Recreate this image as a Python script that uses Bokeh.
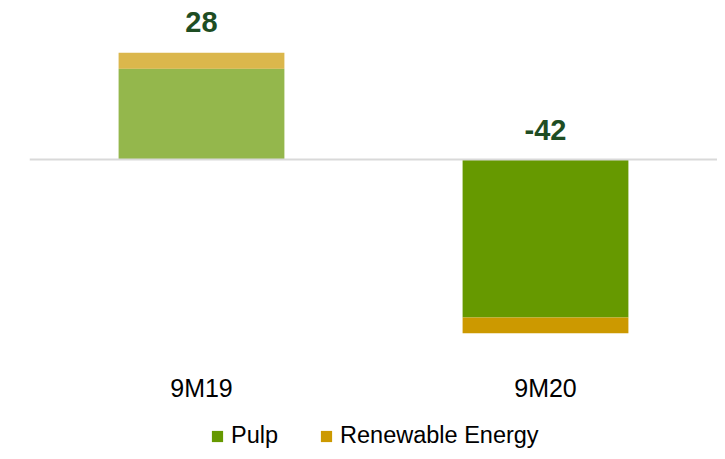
from bokeh.plotting import figure
from bokeh.models import FactorRange, Range1d, Span, Legend, LegendItem, ColumnDataSource
from bokeh.core.properties import value
from bokeh.embed import file_html
from bokeh.resources import INLINE

# ---- data ----
categories = ["9M19", "9M20"]
pulp = [23, -40]
renewable = [4, -4]
total_labels = ["28", "-42"]
pulp_colors = ["#669900", "#669900"]
renew_colors = ["#CC9900", "#CC9900"]
bar_alpha = [0.7, 1.0]

# ---- layout constants ----
W, H = 717, 451
PX_PER_UNIT = 3.95
ZERO_PX = 159
FONT = "'Liberation Sans', Arial, sans-serif"

renew_top = [a + b for a, b in zip(pulp, renewable)]
label_y = [max(t, 0) for t in renew_top]
label_off = [-31 if t > 0 else -30 for t in renew_top]
zeros = [0 for _ in categories]

src = ColumnDataSource(dict(
    cat=categories, pulp=pulp, renew_top=renew_top, label_y=label_y,
    label_off=label_off, zero=zeros, label=total_labels,
    pulp_color=pulp_colors, renew_color=renew_colors, alpha=bar_alpha,
))

p = figure(
    width=W, height=H,
    x_range=FactorRange(*categories, range_padding=0),
    y_range=Range1d(-(H - ZERO_PX) / PX_PER_UNIT, ZERO_PX / PX_PER_UNIT),
    output_backend="svg", toolbar_location=None,
    min_border_left=29, min_border_right=0, min_border_top=0, min_border_bottom=0,
    x_axis_location=None, y_axis_location=None,
)
p.outline_line_color = None
p.xgrid.visible = False
p.ygrid.visible = False
p.background_fill_color = "white"
p.border_fill_color = "white"

p.add_layout(Span(location=0, dimension="width", line_color="#D9D9D9", line_width=2))

pulp_r = p.vbar(x="cat", bottom="zero", top="pulp", width=0.482, source=src,
                fill_color="pulp_color", fill_alpha="alpha", line_color=None)
renew_r = p.vbar(x="cat", bottom="pulp", top="renew_top", width=0.482, source=src,
                 fill_color="renew_color", fill_alpha="alpha", line_color=None)

# total labels
p.text(x="cat", y="label_y", text="label", source=src, y_offset="label_off",
       text_align="center", text_baseline="middle",
       text_font=value(FONT), text_font_style="bold", text_font_size="29px",
       text_color="#1E4D23")

# category labels
p.text(x="cat", y="zero", text="cat", source=src, y_offset=228,
       text_align="center", text_baseline="middle",
       text_font=value(FONT), text_font_size="25px", text_color="#000000")

legend = Legend(
    items=[LegendItem(label="Pulp", renderers=[pulp_r], index=1),
           LegendItem(label="Renewable Energy", renderers=[renew_r], index=1)],
    orientation="horizontal", location=(181, 2),
    glyph_width=14, glyph_height=14, label_standoff=7, spacing=41,
    padding=0, margin=0, border_line_color=None, background_fill_alpha=0,
    label_text_font=FONT, label_text_font_size="23.5px", label_text_color="#000000",
)
p.add_layout(legend)

open("out.html", "w").write(file_html(p, INLINE))
